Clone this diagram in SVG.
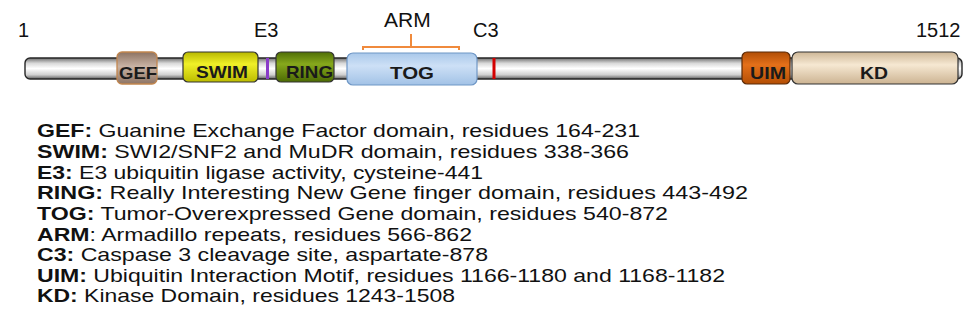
<svg xmlns="http://www.w3.org/2000/svg" width="973" height="336" viewBox="0 0 973 336">
  <defs>
    <linearGradient id="gBar" x1="0" y1="0" x2="0" y2="1">
      <stop offset="0" stop-color="#6e6e6e"/>
      <stop offset="0.25" stop-color="#d8d8d8"/>
      <stop offset="0.5" stop-color="#ffffff"/>
      <stop offset="0.8" stop-color="#cfcfcf"/>
      <stop offset="1" stop-color="#5e5e5e"/>
    </linearGradient>
    <linearGradient id="gGef" x1="0" y1="0" x2="0" y2="1">
      <stop offset="0" stop-color="#8c7262"/>
      <stop offset="0.45" stop-color="#c9b3a4"/>
      <stop offset="1" stop-color="#8e7464"/>
    </linearGradient>
    <linearGradient id="gSwim" x1="0" y1="0" x2="0" y2="1">
      <stop offset="0" stop-color="#b8b800"/>
      <stop offset="0.4" stop-color="#f0f028"/>
      <stop offset="1" stop-color="#bcbc00"/>
    </linearGradient>
    <linearGradient id="gRing" x1="0" y1="0" x2="0" y2="1">
      <stop offset="0" stop-color="#4f6e06"/>
      <stop offset="0.4" stop-color="#86a81c"/>
      <stop offset="1" stop-color="#4c6a04"/>
    </linearGradient>
    <linearGradient id="gTog" x1="0" y1="0" x2="0" y2="1">
      <stop offset="0" stop-color="#a9c8ea"/>
      <stop offset="0.4" stop-color="#cde0f6"/>
      <stop offset="1" stop-color="#a2c2e6"/>
    </linearGradient>
    <linearGradient id="gUim" x1="0" y1="0" x2="0" y2="1">
      <stop offset="0" stop-color="#b04e06"/>
      <stop offset="0.4" stop-color="#e4701a"/>
      <stop offset="1" stop-color="#b44e04"/>
    </linearGradient>
    <linearGradient id="gKd" x1="0" y1="0" x2="0" y2="1">
      <stop offset="0" stop-color="#cdb696"/>
      <stop offset="0.4" stop-color="#f6e8d2"/>
      <stop offset="1" stop-color="#ccb392"/>
    </linearGradient>
  </defs>
  <style>
    .lbl { font-family: "Liberation Sans", Arial, sans-serif; font-size: 20px; fill: #111; }
    .dom { stroke: #333; stroke-width: 1.2; }
    .dtx { font-family: "Liberation Sans", Arial, sans-serif; font-size: 17px; font-weight: bold; fill: #1a1a1a; }
    .leg { font-family: "Liberation Sans", Arial, sans-serif; font-size: 19px; fill: #111; }
    .leg .b { font-weight: bold; }
  </style>

  <rect width="973" height="336" fill="#ffffff"/>

  <!-- position labels -->
  <text class="lbl" x="18" y="37">1</text>
  <text class="lbl" x="254" y="37">E3</text>
  <text class="lbl" x="384" y="27" style="font-size:21px">ARM</text>
  <text class="lbl" x="473" y="37">C3</text>
  <text class="lbl" x="916" y="37">1512</text>

  <!-- protein backbone -->
  <g id="backbone">
    <rect x="25" y="58" width="937" height="21" rx="5" fill="url(#gBar)" stroke="#262626" stroke-width="1.4"/>
  </g>

  <g id="gef">
    <rect x="117" y="52" width="40" height="32" rx="5" fill="url(#gGef)" stroke="#c2864e" stroke-width="1.3"/>
    <text class="dtx" x="119" y="79" textLength="38" lengthAdjust="spacingAndGlyphs">GEF</text>
  </g>

  <g id="swim">
    <rect class="dom" x="183" y="52" width="75" height="30" rx="5" fill="url(#gSwim)"/>
    <text class="dtx" x="196" y="78" textLength="52" lengthAdjust="spacingAndGlyphs">SWIM</text>
  </g>

  <g id="e3">
    <rect x="266" y="58" width="3" height="21" fill="#8a3cc8"/>
  </g>

  <g id="ring">
    <rect class="dom" x="276" y="52" width="58" height="30" rx="5" fill="url(#gRing)"/>
    <text class="dtx" x="286" y="78" textLength="47" lengthAdjust="spacingAndGlyphs">RING</text>
  </g>

  <g id="tog">
    <rect x="347" y="53" width="130" height="32" rx="6" fill="url(#gTog)" stroke="#6f97c6" stroke-width="1.2"/>
    <text class="dtx" x="390" y="79" textLength="44" lengthAdjust="spacingAndGlyphs">TOG</text>
  </g>

  <g id="arm">
    <path d="M363 50 V47 H459 V50 M411 47 V34" fill="none" stroke="#f08a3c" stroke-width="2"/>
  </g>

  <g id="c3">
    <rect x="492.5" y="58" width="3" height="21" fill="#d40000"/>
  </g>

  <g id="uim">
    <rect x="742" y="52" width="48" height="32" rx="5" fill="url(#gUim)" stroke="#5a2a08" stroke-width="1.2"/>
    <text class="dtx" x="750" y="79" textLength="36" lengthAdjust="spacingAndGlyphs">UIM</text>
  </g>

  <g id="kd">
    <rect class="dom" x="792" y="52" width="166" height="32" rx="6" fill="url(#gKd)"/>
    <text class="dtx" x="860" y="79" textLength="28" lengthAdjust="spacingAndGlyphs">KD</text>
  </g>

  <!-- legend -->
  <g id="legend">
    <text class="leg" x="37" y="137" textLength="603" lengthAdjust="spacingAndGlyphs"><tspan class="b">GEF:</tspan> Guanine Exchange Factor domain, residues 164-231</text>
    <text class="leg" x="37" y="158" textLength="592" lengthAdjust="spacingAndGlyphs"><tspan class="b">SWIM:</tspan> SWI2/SNF2 and MuDR domain, residues 338-366</text>
    <text class="leg" x="37" y="178.5" textLength="446" lengthAdjust="spacingAndGlyphs"><tspan class="b">E3:</tspan> E3 ubiquitin ligase activity, cysteine-441</text>
    <text class="leg" x="37" y="199" textLength="711" lengthAdjust="spacingAndGlyphs"><tspan class="b">RING:</tspan>  Really Interesting New Gene finger domain, residues 443-492</text>
    <text class="leg" x="37" y="220" textLength="631" lengthAdjust="spacingAndGlyphs"><tspan class="b">TOG:</tspan> Tumor-Overexpressed Gene domain, residues 540-872</text>
    <text class="leg" x="37" y="240.5" textLength="435" lengthAdjust="spacingAndGlyphs"><tspan class="b">ARM</tspan>: Armadillo repeats, residues 566-862</text>
    <text class="leg" x="37" y="261" textLength="451" lengthAdjust="spacingAndGlyphs"><tspan class="b">C3:</tspan> Caspase 3 cleavage site, aspartate-878</text>
    <text class="leg" x="37" y="281.5" textLength="688" lengthAdjust="spacingAndGlyphs"><tspan class="b">UIM:</tspan> Ubiquitin Interaction Motif, residues 1166-1180 and 1168-1182</text>
    <text class="leg" x="37" y="302" textLength="418" lengthAdjust="spacingAndGlyphs"><tspan class="b">KD:</tspan> Kinase Domain, residues 1243-1508</text>
  </g>
</svg>
